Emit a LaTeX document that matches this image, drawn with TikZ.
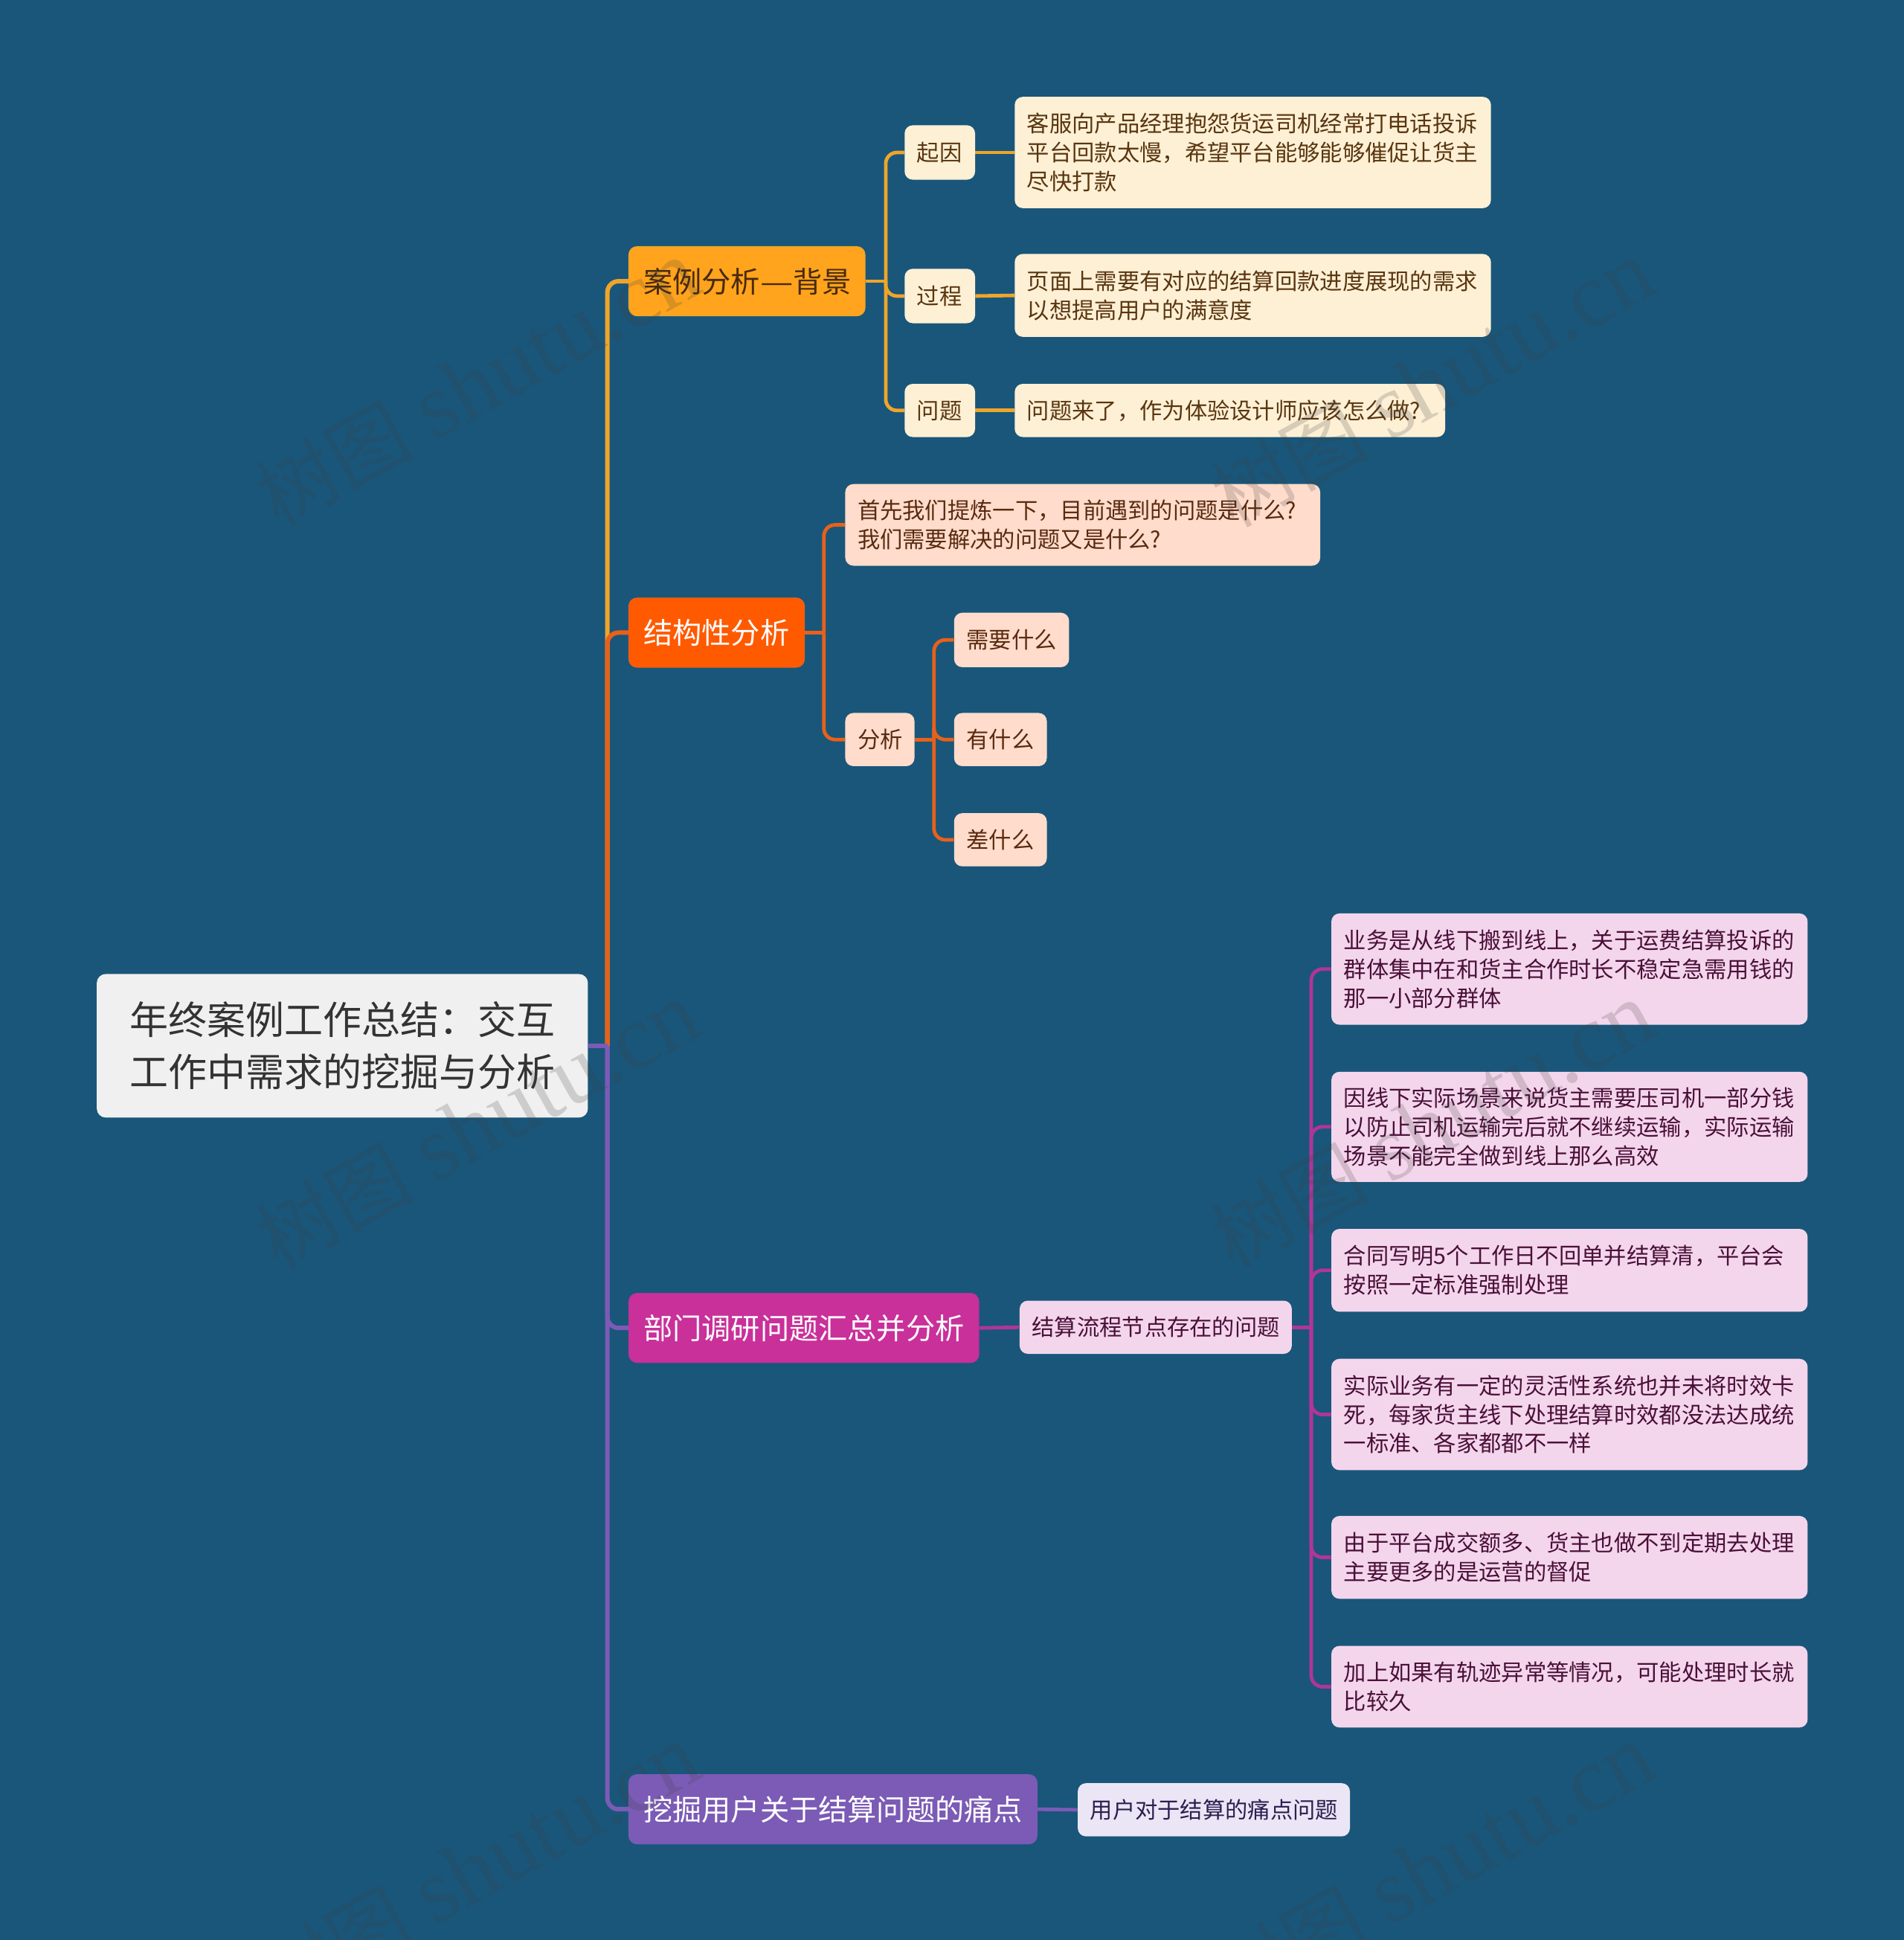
\documentclass[tikz,border=0pt]{standalone}
\usepackage{fontspec}
\setmainfont{Noto Sans CJK SC}
\newfontfamily\wmcjk{Noto Sans CJK SC}
\newfontfamily\wmlat{Liberation Serif}
\newcommand{\cma}{\char"FF0C\relax}
\newcommand{\cln}{\char"FF1A\relax}
\definecolor{bgc}{HTML}{19567A}
\definecolor{cA}{HTML}{EEA52B}
\definecolor{cB}{HTML}{E8611A}
\definecolor{cC}{HTML}{B0359A}
\definecolor{cD}{HTML}{7B5BB5}
\definecolor{fA}{HTML}{FFA41C}
\definecolor{fB}{HTML}{FF5A00}
\definecolor{fC}{HTML}{C9309A}
\definecolor{fD}{HTML}{7B5BB5}
\definecolor{lA}{HTML}{FDF0D5}
\definecolor{lB}{HTML}{FFDCCB}
\definecolor{lC}{HTML}{F4D6EC}
\definecolor{lD}{HTML}{EBE6F5}
\definecolor{tA}{HTML}{5A3510}
\definecolor{tB}{HTML}{5A2A10}
\definecolor{tC}{HTML}{4A1038}
\definecolor{tD}{HTML}{2C1F50}
\tikzset{
 x=0.8317pt,y=-0.8317pt,
 pad/.code={\pgfmathsetmacro{\tw}{\bw-2*#1*0.8317}\pgfmathsetmacro{\ip}{#1*0.8317}\tikzset{inner xsep=\ip pt,text width=\tw pt}},
 base/.style={rounded corners=5.5pt,inner ysep=0pt,align=left,anchor=north west},
 rootbox/.style={base,fill=white!94!black,text=black!80,font=\fontsize{26pt}{35pt}\selectfont,rounded corners=6pt,pad=26.5},
 topA/.style={base,fill=fA,draw=cA,line width=.5pt,text=tA!80!black,font=\fontsize{19.6pt}{24pt}\selectfont,pad=12},
 topB/.style={base,fill=fB,draw=cB,line width=.5pt,text=white,font=\fontsize{19.6pt}{24pt}\selectfont,pad=12},
 topC/.style={base,fill=fC,draw=cC,line width=.5pt,text=white,font=\fontsize{19.6pt}{24pt}\selectfont,pad=12},
 topD/.style={base,fill=fD,draw=cD,line width=.5pt,text=white,font=\fontsize{19.6pt}{24pt}\selectfont,pad=12},
 subA/.style={base,fill=lA,text=tA,font=\fontsize{15.15pt}{19.4pt}\selectfont,pad=10},
 subB/.style={base,fill=lB,text=tB,font=\fontsize{15.15pt}{19.4pt}\selectfont,pad=10},
 subC/.style={base,fill=lC,text=tC,font=\fontsize{15.15pt}{19.4pt}\selectfont,pad=10},
 subD/.style={base,fill=lD,text=tD,font=\fontsize{15.15pt}{19.4pt}\selectfont,pad=10},
 wm/.style={rotate=29,opacity=.2,text=black!75,inner sep=0pt},
}
% name, x1,y1,x2,y2, style, text
\newcommand{\bx}[7]{%
 \pgfmathsetmacro{\bw}{(#4-#2)*0.8317}%
 \pgfmathsetmacro{\bh}{(#5-#3)*0.8317}%
 \node[#6,minimum width=\bw pt,minimum height=\bh pt] (#1) at (#2,#3) {#7};}
% parent, child, bus coordinate, colour, width
\newcommand{\branch}[5]{%
 \draw[#4,line width=#5] (#1.east) -- (#1.east -| #3);
 \draw[#4,line width=#5,rounded corners=7.5pt] (#1.east -| #3) -- (#2.west -| #3) -- (#2.west);}
\newcommand{\wmark}[2]{\node[wm] at (#1,#2) {{\wmcjk\fontsize{53pt}{53pt}\selectfont 树图}\hspace{14pt}{\wmlat\fontsize{62pt}{62pt}\selectfont shutu.cn}};}
\begin{document}
\begin{tikzpicture}
\useasboundingbox (0,0) rectangle (1539,1568);
\fill[bgc] (0,0) rectangle (1539,1568);
\coordinate (busR) at (491,0);
\coordinate (busA) at (716,0);
\coordinate (busB) at (666,0);
\coordinate (busBB) at (755,0);
\coordinate (busC) at (1060,0);

\bx{root}{78}{787}{475}{903}{rootbox}{年终案例工作总结\cln 交互\\工作中需求的挖掘与分析}
\bx{a}{508}{199}{699}{255}{topA}{案例分析\scalebox{1.27}[1]{—}背景}
\bx{b}{508}{483}{650}{539}{topB}{结构性分析}
\bx{c}{508}{1045}{791}{1101}{topC}{部门调研问题汇总并分析}
\bx{d}{508}{1434}{838}{1490}{topD}{挖掘用户关于结算问题的痛点}

\bx{a1}{731}{101}{788}{145}{subA}{起因}
\bx{a2}{731}{217}{788}{261}{subA}{过程}
\bx{a3}{731}{310}{788}{353}{subA}{问题}
\bx{a1t}{820}{78}{1205}{168}{subA}{客服向产品经理抱怨货运司机经常打电话投诉\\平台回款太慢\cma 希望平台能够能够催促让货主\\尽快打款}
\bx{a2t}{820}{205}{1205}{272}{subA}{页面上需要有对应的结算回款进度展现的需求\\以想提高用户的满意度}
\bx{a3t}{820}{310}{1168}{353}{subA}{问题来了\cma 作为体验设计师应该怎么做?}

\bx{b1}{683}{391}{1067}{457}{subB}{首先我们提炼一下\cma 目前遇到的问题是什么?\\我们需要解决的问题又是什么?}
\bx{b2}{683}{576}{739}{619}{subB}{分析}
\bx{b21}{771}{495}{864}{539}{subB}{需要什么}
\bx{b22}{771}{576}{846}{619}{subB}{有什么}
\bx{b23}{771}{657}{846}{700}{subB}{差什么}

\bx{c0}{824}{1051}{1044}{1094}{subC}{结算流程节点存在的问题}
\bx{c1}{1076}{738}{1461}{828}{subC}{业务是从线下搬到线上\cma 关于运费结算投诉的\\群体集中在和货主合作时长不稳定急需用钱的\\那一小部分群体}
\bx{c2}{1076}{866}{1461}{955}{subC}{因线下实际场景来说货主需要压司机一部分钱\\以防止司机运输完后就不继续运输\cma 实际运输\\场景不能完全做到线上那么高效}
\bx{c3}{1076}{993}{1461}{1060}{subC}{合同写明5个工作日不回单并结算清\cma 平台会\\按照一定标准强制处理}
\bx{c4}{1076}{1098}{1461}{1188}{subC}{实际业务有一定的灵活性系统也并未将时效卡\\死\cma 每家货主线下处理结算时效都没法达成统\\一标准、各家都都不一样}
\bx{c5}{1076}{1225}{1461}{1292}{subC}{由于平台成交额多、货主也做不到定期去处理\\主要更多的是运营的督促}
\bx{c6}{1076}{1330}{1461}{1396}{subC}{加上如果有轨迹异常等情况\cma 可能处理时长就\\比较久}
\bx{d0}{871}{1441}{1091}{1484}{subD}{用户对于结算的痛点问题}

\branch{root}{a}{busR}{cA}{3pt}
\branch{root}{b}{busR}{cB}{3pt}
\branch{root}{c}{busR}{cD}{3pt}
\branch{root}{d}{busR}{cD}{3pt}
\branch{a}{a1}{busA}{cA}{2.4pt}
\branch{a}{a2}{busA}{cA}{2.4pt}
\branch{a}{a3}{busA}{cA}{2.4pt}
\draw[cA,line width=2.4pt] (a1.east) -- (a1t.west);
\draw[cA,line width=2.4pt] (a2.east) -- (a2t.west);
\draw[cA,line width=2.4pt] (a3.east) -- (a3t.west);
\branch{b}{b1}{busB}{cB}{2.4pt}
\branch{b}{b2}{busB}{cB}{2.4pt}
\branch{b2}{b21}{busBB}{cB}{2.4pt}
\branch{b2}{b22}{busBB}{cB}{2.4pt}
\branch{b2}{b23}{busBB}{cB}{2.4pt}
\draw[cC,line width=2.4pt] (c.east) -- (c0.west);
\foreach \k in {c1,c2,c3,c4,c5,c6}{\branch{c0}{\k}{busC}{cC}{2.4pt}}
\draw[cD,line width=2.4pt] (d.east) -- (d0.west);

\begin{scope}
\clip (0,0) rectangle (1539,1568);
\wmark{386}{310}\wmark{1158}{310}
\wmark{386}{910}\wmark{1158}{910}
\wmark{386}{1510}\wmark{1158}{1510}
\end{scope}
\end{tikzpicture}
\end{document}
